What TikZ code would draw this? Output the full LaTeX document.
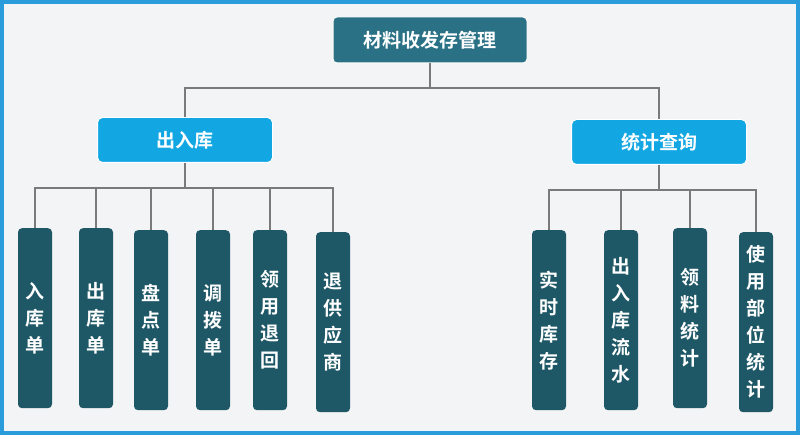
\documentclass[tikz,border=0pt]{standalone}
\usepackage{fontspec}
\newfontfamily\cjk{Noto Sans CJK SC Bold}
\usetikzlibrary{positioning}

\tikzset{
    rootbox/.style={rounded corners=4pt, fill=rootcol, text=white, font=\cjk\fontsize{19}{22}\selectfont,
        minimum width=194pt, minimum height=46pt, draw=white, line width=1pt},
    midbox/.style={rounded corners=5pt, fill=midcol, text=white, font=\cjk\fontsize{19}{22}\selectfont,
        minimum width=175pt, minimum height=45pt, draw=white, line width=1pt},
    leafbox/.style={rounded corners=4pt, fill=leafcol, text=white, font=\cjk\fontsize{19}{27}\selectfont,
        minimum width=34pt, minimum height=180pt, align=center, anchor=north, inner xsep=1pt},
    link/.style={draw=linecol, line width=1.2pt}
}
\definecolor{rootcol}{HTML}{2A7186}
\definecolor{midcol}{HTML}{12A7E3}
\definecolor{leafcol}{HTML}{1E5766}
\definecolor{linecol}{HTML}{7A7A7A}
\definecolor{bgcol}{HTML}{F3F4F5}
\definecolor{framecol}{HTML}{2A9BDB}

\begin{document}
\begin{tikzpicture}[x=1pt, y=-1pt]
    \draw[fill=bgcol, draw=framecol, line width=4pt] (2, 2) rectangle (798, 433);
    \useasboundingbox (0, 0) rectangle (800, 435);

    \node[rootbox] (root) at (430, 40) {材料收发存管理};
    \node[midbox] (inout) at (185, 140) {出入库};
    \node[midbox] (stat) at (659, 142) {统计查询};

    % left leaves
    \node[leafbox] (l1) at (35, 228) {入\\库\\单};
    \node[leafbox] (l2) at (96, 228) {出\\库\\单};
    \node[leafbox] (l3) at (151, 230) {盘\\点\\单};
    \node[leafbox] (l4) at (213, 230) {调\\拨\\单};
    \node[leafbox] (l5) at (270, 230) {领\\用\\退\\回};
    \node[leafbox] (l6) at (333, 232) {退\\供\\应\\商};

    % right leaves
    \node[leafbox] (r1) at (549, 230) {实\\时\\库\\存};
    \node[leafbox] (r2) at (621, 230) {出\\入\\库\\流\\水};
    \node[leafbox] (r3) at (690, 228) {领\\料\\统\\计};
    \node[leafbox] (r4) at (756, 232) {使\\用\\部\\位\\统\\计};

    \coordinate (top) at (430, 88);
    \coordinate (lbar) at (185, 188);
    \coordinate (rbar) at (659, 190);

    \draw[link] (root.south) -- (top);
    \draw[link] (inout.north) |- (top) -| (stat.north);
    \draw[link] (inout.south) -- (lbar);
    \foreach \n in {l1, l2, l3, l4, l5, l6}
        \draw[link] (\n.north) |- (lbar);
    \draw[link] (stat.south) -- (rbar);
    \foreach \n in {r1, r2, r3, r4}
        \draw[link] (\n.north) |- (rbar);
\end{tikzpicture}
\end{document}
